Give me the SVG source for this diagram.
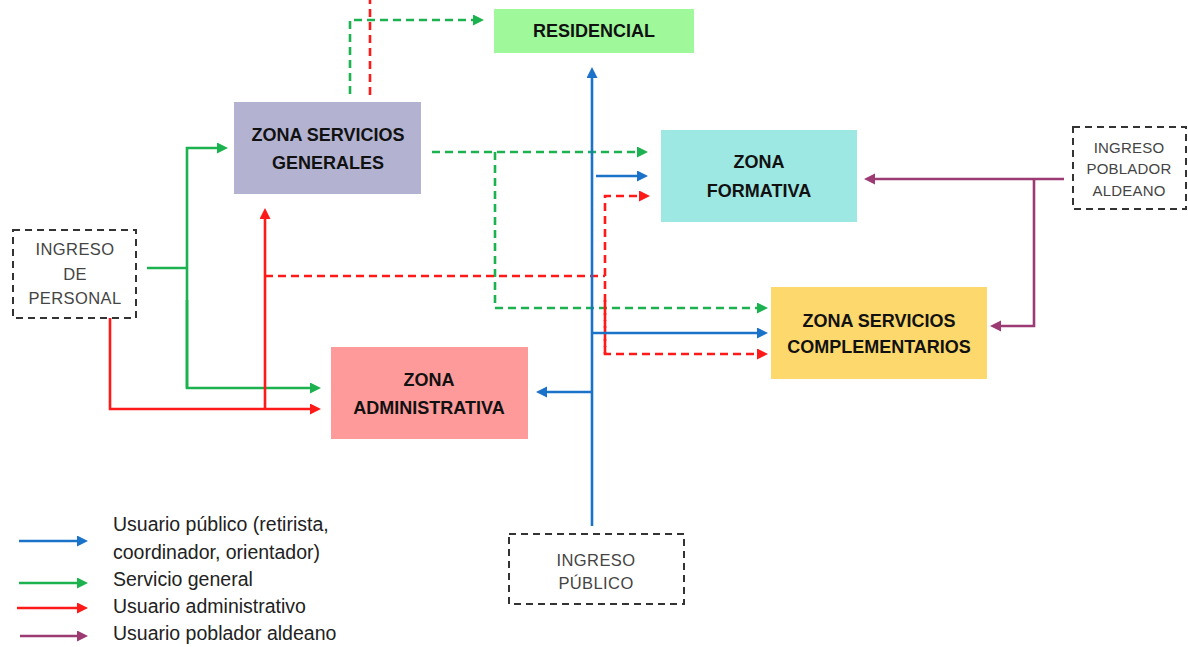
<svg xmlns="http://www.w3.org/2000/svg" width="1188" height="647" viewBox="0 0 1188 647">
<style>
.zone text{font-family:"Liberation Sans",Arial,sans-serif;font-weight:bold;font-size:18px;fill:#111;text-anchor:middle}
.entry rect{fill:#fff;stroke:#333;stroke-width:2;stroke-dasharray:7 5}
.entry text{font-family:"Liberation Sans",Arial,sans-serif;font-size:16.5px;fill:#444;text-anchor:middle;letter-spacing:0.4px}
#ingreso-poblador text{font-size:15px;letter-spacing:0.2px}
.legend text{font-family:"Liberation Sans",Arial,sans-serif;font-size:19.5px;fill:#222}
.c{fill:none;stroke-width:2.6}
.b{stroke:#1a73c8}.g{stroke:#1cb24f}.r{stroke:#ff1a1a}.p{stroke:#9c3a73}
.d{stroke-dasharray:8 5}
</style>
<defs>
<marker id="ab" markerUnits="userSpaceOnUse" markerWidth="14" markerHeight="14" refX="2" refY="5.5" orient="auto"><path d="M0,0 L11,5.5 L0,11 z" fill="#1a73c8"/></marker>
<marker id="ag" markerUnits="userSpaceOnUse" markerWidth="14" markerHeight="14" refX="2" refY="5.5" orient="auto"><path d="M0,0 L11,5.5 L0,11 z" fill="#1cb24f"/></marker>
<marker id="ar" markerUnits="userSpaceOnUse" markerWidth="14" markerHeight="14" refX="2" refY="5.5" orient="auto"><path d="M0,0 L11,5.5 L0,11 z" fill="#ff1a1a"/></marker>
<marker id="ap" markerUnits="userSpaceOnUse" markerWidth="14" markerHeight="14" refX="2" refY="5.5" orient="auto"><path d="M0,0 L11,5.5 L0,11 z" fill="#9c3a73"/></marker>
</defs>
<rect width="1188" height="647" fill="#fff"/>

<g id="residencial" class="zone"><rect x="494" y="9" width="200" height="44" fill="#9ff99b"/><text x="594" y="37">RESIDENCIAL</text></g>
<g id="zona-servicios-generales" class="zone"><rect x="234" y="102" width="187" height="92" fill="#b3b3d1"/><text x="328" y="141">ZONA SERVICIOS</text><text x="328" y="169">GENERALES</text></g>
<g id="zona-formativa" class="zone"><rect x="661" y="130" width="196" height="92" fill="#9ee8e3"/><text x="759" y="168">ZONA</text><text x="759" y="197">FORMATIVA</text></g>
<g id="zona-servicios-complementarios" class="zone"><rect x="771" y="287" width="216" height="92" fill="#fdd86c"/><text x="879" y="327">ZONA SERVICIOS</text><text x="879" y="353">COMPLEMENTARIOS</text></g>
<g id="zona-administrativa" class="zone"><rect x="331" y="347" width="197" height="92" fill="#fe9a9a"/><text x="429" y="386">ZONA</text><text x="429" y="414">ADMINISTRATIVA</text></g>

<g id="ingreso-personal" class="entry"><rect x="13" y="230" width="123" height="88"/><text x="75" y="255">INGRESO</text><text x="75" y="280">DE</text><text x="75" y="304">PERSONAL</text></g>
<g id="ingreso-poblador" class="entry"><rect x="1073" y="127" width="113" height="82"/><text x="1129" y="153">INGRESO</text><text x="1129" y="174">POBLADOR</text><text x="1129" y="196">ALDEANO</text></g>
<g id="ingreso-publico" class="entry"><rect x="509" y="534" width="175" height="70"/><text x="596" y="566">INGRESO</text><text x="596" y="589">PÚBLICO</text></g>

<g id="connectors">
<path class="c g d" d="M350,94 V20 H475" marker-end="url(#ag)"/>
<path class="c r d" d="M370,95 V0"/>
<path class="c g d" d="M432,152 H639" marker-end="url(#ag)"/>
<path class="c g d" d="M495,152 V308 H759" marker-end="url(#ag)"/>
<path class="c r d" d="M265,276 H605"/>
<path class="c r d" d="M605,354 V196 H641" marker-end="url(#ar)"/>
<path class="c r d" d="M605,300 V354 H759" marker-end="url(#ar)"/>
<path class="c b" d="M592,526 V76" marker-end="url(#ab)"/>
<path class="c b" d="M596,176 H639" marker-end="url(#ab)"/>
<path class="c b" d="M592,333 H759" marker-end="url(#ab)"/>
<path class="c b" d="M592,392 H545" marker-end="url(#ab)"/>
<path class="c g" d="M147,268 H187"/>
<path class="c g" d="M187,388 V148 H219" marker-end="url(#ag)"/>
<path class="c g" d="M187,300 V388 H312" marker-end="url(#ag)"/>
<path class="c r" d="M110,318 V409 H312" marker-end="url(#ar)"/>
<path class="c r" d="M265,409 V217" marker-end="url(#ar)"/>
<path class="c p" d="M1064,179 H873" marker-end="url(#ap)"/>
<path class="c p" d="M1034,179 V326 H999" marker-end="url(#ap)"/>
</g>

<g id="legend" class="legend">
<path class="c b" d="M19,541 H79" marker-end="url(#ab)"/>
<path class="c g" d="M19,583 H79" marker-end="url(#ag)"/>
<path class="c r" d="M17,608 H79" marker-end="url(#ar)"/>
<path class="c p" d="M20,636 H79" marker-end="url(#ap)"/>
<text x="113" y="531">Usuario público (retirista,</text>
<text x="113" y="559">coordinador, orientador)</text>
<text x="113" y="586">Servicio general</text>
<text x="113" y="613">Usuario administrativo</text>
<text x="113" y="640">Usuario poblador aldeano</text>
</g>
</svg>
